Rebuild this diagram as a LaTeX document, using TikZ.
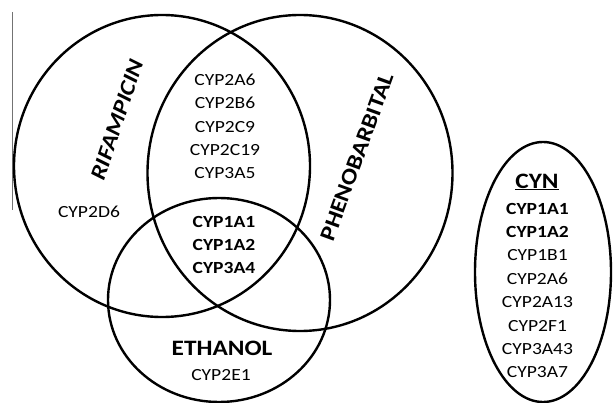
\documentclass[tikz,border=0pt]{standalone}
\usepackage{fontspec}
\setmainfont{Carlito}[FakeStretch=1.15]
\usetikzlibrary{shapes.geometric}
\tikzset{
  set/.style={draw, ellipse, line width=2.4pt, inner sep=0pt},
  genes/.style={align=center, inner sep=0pt, font=\fontsize{17}{23.4}\selectfont},
  drug/.style={inner sep=0pt, font=\fontsize{22}{26}\selectfont\bfseries},
}

\begin{document}
\begin{tikzpicture}[x=1pt, y=-1pt]
	%%%%% START %%%%%
	\useasboundingbox (0,0) rectangle (613,403);
	
	\draw[line width=1.5pt, color=black!55] (12.5, 12) -- (12.5, 210);
	
	\node[set, minimum width=296pt, minimum height=302pt] (rif) at (162, 166) {};
	\node[set, minimum width=305pt, minimum height=316pt] (phe) at (300, 173) {};
	\node[set, minimum width=222pt, minimum height=204pt] (eth) at (219, 300) {};
	\node[set, minimum width=136pt, minimum height=260pt] (cyn) at (543, 272) {};
	
	\node[drug, rotate=71.6] (rifname) at (117, 120) {\itshape RIFAMPICIN};
	\node[drug, rotate=70] (phename) at (357, 157) {PHENOBARBITAL};
	\node[drug] (ethname) at (222, 348) {ETHANOL};
	\node[drug] (cynname) at (537, 182) {\underline{CYN}};
	
	\node[genes] (rifonly) at (89, 212) {CYP2D6};
	\node[genes] (rifphe) at (225, 126.5) {CYP2A6\\CYP2B6\\CYP2C9\\CYP2C19\\CYP3A5};
	\node[genes, font=\fontsize{17}{23}\selectfont\bfseries] (allthree) at (224, 245) {CYP1A1\\CYP1A2\\CYP3A4};
	\node[genes] (ethonly) at (221, 375) {CYP2E1};
	\node[genes] (cynlist) at (537.5, 290.5) {\textbf{CYP1A1}\\\textbf{CYP1A2}\\CYP1B1\\CYP2A6\\CYP2A13\\CYP2F1\\CYP3A43\\CYP3A7};
	
	%%%%% END %%%%%
\end{tikzpicture}
\end{document}
